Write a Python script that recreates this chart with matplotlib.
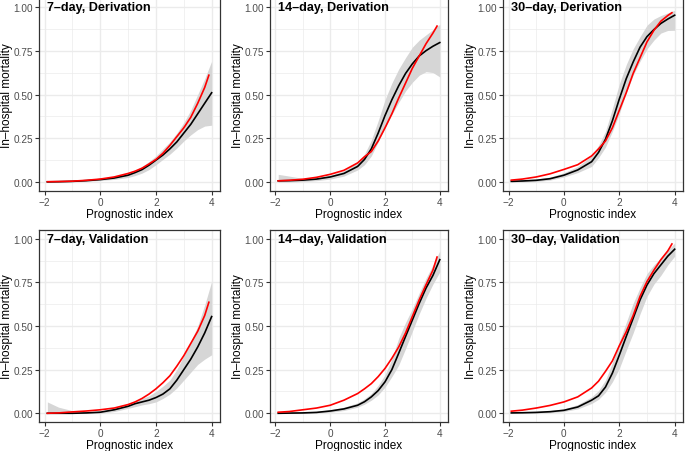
"""
calibration
~~~~~~~~~~~
Observed (smoothed, with band) vs predicted in-hospital mortality
against the prognostic index, derivation and validation cohorts.
"""
import matplotlib
matplotlib.use("Agg")
import matplotlib.pyplot as plt
from matplotlib.ticker import MultipleLocator

plt.rcParams['font.family'] = ['Liberation Sans', 'DejaVu Sans']

# prognostic index values where the curves were read
x_obs = [-1.9, -1.5, -1.0, -0.5, 0.0, 0.5, 1.0, 1.25, 1.5, 1.75,
         2.0, 2.25, 2.5, 2.75, 3.0, 3.25, 3.5, 3.75, 4.0]
x_pred = [-1.9, -1.5, -1.0, -0.5, 0.0, 0.5, 1.0, 1.25, 1.5, 1.75,
          2.0, 2.25, 2.5, 2.75, 3.0, 3.25, 3.5, 3.75, 3.9]

titles = ["7–day, Derivation", "14–day, Derivation", "30–day, Derivation",
          "7–day, Validation", "14–day, Validation", "30–day, Validation"]

# observed (black) curves
obs_7d_der = [0.002, 0.003, 0.005, 0.009, 0.015, 0.024, 0.04, 0.055, 0.072, 0.097,
              0.126, 0.155, 0.19, 0.23, 0.28, 0.33, 0.39, 0.45, 0.51]
obs_14d_der = [0.008, 0.009, 0.012, 0.018, 0.03, 0.05, 0.09, 0.13, 0.19, 0.28,
               0.38, 0.47, 0.55, 0.62, 0.675, 0.72, 0.75, 0.775, 0.796]
obs_30d_der = [0.005, 0.007, 0.011, 0.02, 0.04, 0.07, 0.117, 0.17, 0.245, 0.35,
               0.474, 0.59, 0.685, 0.77, 0.83, 0.87, 0.905, 0.93, 0.952]
obs_7d_val = [0.0, 0.0, 0.0, 0.002, 0.006, 0.02, 0.04, 0.055, 0.065, 0.075,
              0.09, 0.11, 0.14, 0.19, 0.25, 0.31, 0.38, 0.46, 0.554]
obs_14d_val = [0.0, 0.001, 0.002, 0.005, 0.013, 0.025, 0.046, 0.066, 0.094, 0.13,
               0.18, 0.25, 0.344, 0.44, 0.535, 0.63, 0.718, 0.79, 0.88]
obs_30d_val = [0.002, 0.003, 0.005, 0.009, 0.017, 0.036, 0.075, 0.10, 0.15, 0.23,
               0.333, 0.44, 0.544, 0.65, 0.735, 0.80, 0.85, 0.90, 0.94]

# confidence band, lower and upper
lo_7d_der = [0.0, 0.001, 0.002, 0.005, 0.01, 0.016, 0.027, 0.038, 0.052, 0.072,
             0.10, 0.13, 0.16, 0.195, 0.235, 0.27, 0.30, 0.32, 0.325]
hi_7d_der = [0.006, 0.006, 0.008, 0.013, 0.02, 0.032, 0.053, 0.07, 0.09, 0.118,
             0.15, 0.19, 0.23, 0.28, 0.34, 0.41, 0.50, 0.59, 0.69]
lo_14d_der = [0.0, 0.001, 0.004, 0.009, 0.018, 0.035, 0.07, 0.10, 0.15, 0.23,
              0.31, 0.385, 0.455, 0.52, 0.57, 0.61, 0.63, 0.625, 0.60]
hi_14d_der = [0.045, 0.035, 0.022, 0.026, 0.04, 0.065, 0.115, 0.16, 0.24, 0.35,
              0.47, 0.565, 0.645, 0.71, 0.77, 0.81, 0.84, 0.87, 0.90]
lo_30d_der = [0.0, 0.001, 0.004, 0.012, 0.03, 0.055, 0.09, 0.14, 0.20, 0.29,
              0.39, 0.51, 0.61, 0.69, 0.76, 0.81, 0.85, 0.865, 0.866]
hi_30d_der = [0.015, 0.015, 0.018, 0.03, 0.054, 0.09, 0.15, 0.21, 0.29, 0.42,
              0.56, 0.67, 0.76, 0.83, 0.895, 0.93, 0.95, 0.965, 0.98]
lo_7d_val = [0.0, 0.0, 0.0, 0.0, 0.0, 0.01, 0.028, 0.038, 0.048, 0.055,
             0.065, 0.085, 0.11, 0.145, 0.19, 0.235, 0.28, 0.31, 0.335]
hi_7d_val = [0.065, 0.035, 0.015, 0.01, 0.012, 0.03, 0.055, 0.07, 0.085, 0.10,
             0.125, 0.155, 0.19, 0.25, 0.33, 0.41, 0.50, 0.62, 0.755]
lo_14d_val = [0.0, 0.0, 0.0, 0.001, 0.006, 0.016, 0.035, 0.052, 0.075, 0.105,
              0.15, 0.21, 0.276, 0.37, 0.47, 0.57, 0.66, 0.74, 0.81]
hi_14d_val = [0.004, 0.005, 0.006, 0.01, 0.02, 0.035, 0.06, 0.083, 0.113, 0.16,
              0.22, 0.31, 0.43, 0.52, 0.60, 0.69, 0.775, 0.85, 0.93]
lo_30d_val = [0.0, 0.0, 0.0, 0.003, 0.01, 0.025, 0.056, 0.08, 0.12, 0.18,
              0.257, 0.36, 0.46, 0.57, 0.67, 0.74, 0.79, 0.85, 0.90]
hi_30d_val = [0.01, 0.009, 0.01, 0.015, 0.025, 0.05, 0.094, 0.13, 0.19, 0.29,
              0.41, 0.52, 0.63, 0.72, 0.80, 0.85, 0.89, 0.935, 0.975]

# predicted (red) curves
pred_7d_der = [0.003, 0.004, 0.006, 0.011, 0.018, 0.03, 0.05, 0.063, 0.08, 0.104,
               0.13, 0.165, 0.21, 0.26, 0.31, 0.37, 0.45, 0.54, 0.61]
pred_14d_der = [0.008, 0.011, 0.017, 0.028, 0.045, 0.068, 0.11, 0.145, 0.175, 0.235,
                0.31, 0.39, 0.48, 0.565, 0.65, 0.72, 0.79, 0.85, 0.89]
pred_30d_der = [0.012, 0.018, 0.03, 0.048, 0.073, 0.10, 0.15, 0.19, 0.235, 0.31,
                0.41, 0.51, 0.62, 0.71, 0.80, 0.866, 0.918, 0.95, 0.966]
pred_7d_val = [0.0, 0.002, 0.008, 0.013, 0.02, 0.03, 0.05, 0.065, 0.085, 0.11,
               0.14, 0.175, 0.215, 0.27, 0.33, 0.40, 0.47, 0.56, 0.636]
pred_14d_val = [0.006, 0.01, 0.02, 0.03, 0.046, 0.075, 0.113, 0.14, 0.17, 0.21,
                0.257, 0.315, 0.38, 0.46, 0.555, 0.65, 0.737, 0.82, 0.895]
pred_30d_val = [0.012, 0.018, 0.03, 0.045, 0.065, 0.094, 0.145, 0.184, 0.24, 0.30,
                0.387, 0.467, 0.56, 0.67, 0.755, 0.82, 0.88, 0.93, 0.97]

observed = [obs_7d_der, obs_14d_der, obs_30d_der, obs_7d_val, obs_14d_val, obs_30d_val]
lower = [lo_7d_der, lo_14d_der, lo_30d_der, lo_7d_val, lo_14d_val, lo_30d_val]
upper = [hi_7d_der, hi_14d_der, hi_30d_der, hi_7d_val, hi_14d_val, hi_30d_val]
predicted = [pred_7d_der, pred_14d_der, pred_30d_der, pred_7d_val, pred_14d_val, pred_30d_val]

W, H = 685, 452
# panel boxes in pixels: left, top, right, bottom
boxes = [(39, -1, 220, 192), (270, -1, 448, 192), (503, -1, 683, 192),
         (39, 231, 220, 423), (270, 231, 448, 423), (503, 231, 683, 423)]

fig = plt.figure(figsize=(W / 100, H / 100), dpi=100)

for i in range(6):
    l, t, r, b = boxes[i]
    ax = fig.add_axes([l / W, 1 - b / H, (r - l) / W, (b - t) / H])
    ax.fill_between(x_obs, lower[i], upper[i], color='#D6D6D6', lw=0, zorder=2)
    ax.plot(x_obs, observed[i], color='black', lw=1.2, zorder=3)
    ax.plot(x_pred, predicted[i], color='red', lw=1.2, zorder=4)
    ax.set_xlim(-2.2, 4.3)
    ax.set_ylim(-0.05, 1.05)
    ax.xaxis.set_major_locator(MultipleLocator(2))
    ax.xaxis.set_minor_locator(MultipleLocator(1))
    ax.yaxis.set_major_locator(MultipleLocator(0.25))
    ax.yaxis.set_minor_locator(MultipleLocator(0.125))
    ax.yaxis.set_major_formatter(plt.FormatStrFormatter('%.2f'))
    ax.grid(True, which='major', color='#EBEBEB', lw=1.0, zorder=0)
    ax.grid(True, which='minor', color='#EBEBEB', lw=0.5, zorder=0)
    ax.set_axisbelow(True)
    for s in ax.spines.values():
        s.set_color('#333333')
        s.set_linewidth(0.9)
    ax.tick_params(which='major', length=3, width=0.8, color='#333333',
                   labelsize=7.2, labelcolor='#4D4D4D', pad=1.3)
    ax.tick_params(which='minor', length=0)
    ax.set_xlabel('Prognostic index', fontsize=8.5, labelpad=1)
    ax.set_ylabel('In–hospital mortality', fontsize=8.5, labelpad=0.3)
    ax.text(-1.9, 1.0, titles[i], fontsize=9.1, fontweight='bold',
            ha='left', va='center', zorder=5)

fig.savefig('out.png', dpi=100)
